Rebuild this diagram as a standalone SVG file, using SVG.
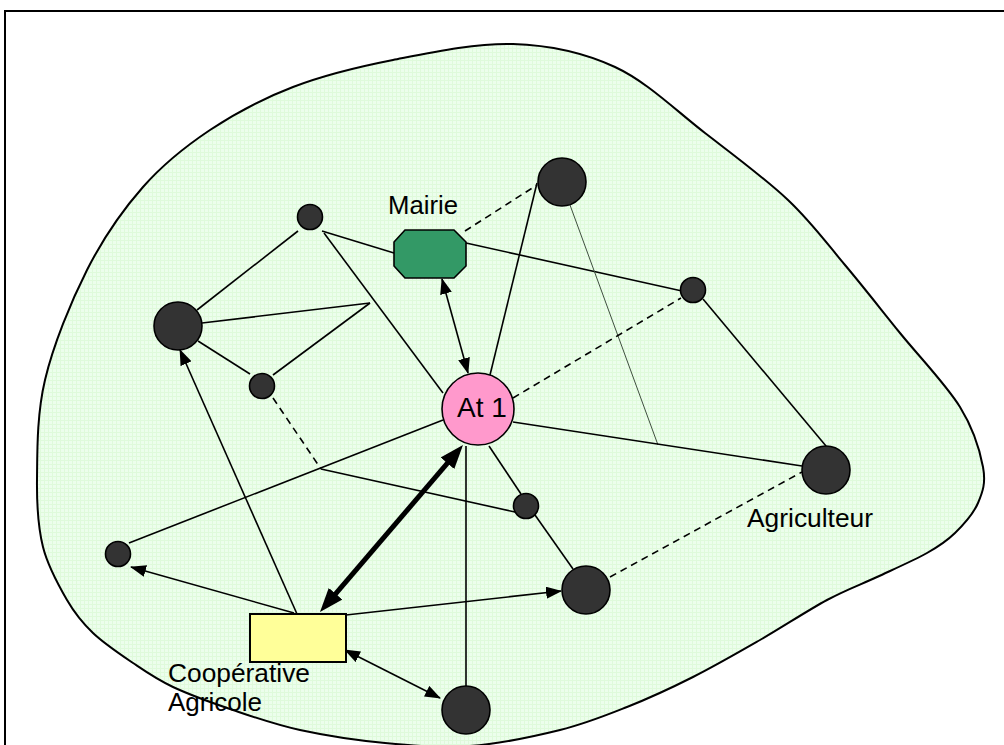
<svg xmlns="http://www.w3.org/2000/svg" width="1004" height="745" viewBox="0 0 1004 745">
<style>
.ln{stroke:#000;stroke-width:1.6;fill:none}
.dash{stroke:#000;stroke-width:1.6;fill:none;stroke-dasharray:7,5}
.thin{stroke:#3f4f3f;stroke-width:1;fill:none}
.thick{stroke:#000;stroke-width:5;fill:none}
.nd{fill:#333333;stroke:#000;stroke-width:1.6}
.lbl{font-family:"Liberation Sans",Arial,sans-serif;font-size:26px;fill:#000}
</style>
<defs>
<pattern id="grid" width="4" height="4" patternUnits="userSpaceOnUse">
<rect width="4" height="4" fill="#ecfeec"/>
<path d="M0,0.5H4M0.5,0V4" stroke="#dffadb" stroke-width="1"/>
</pattern>
<marker id="ah" markerUnits="userSpaceOnUse" viewBox="0 0 16 12" markerWidth="16" markerHeight="12" refX="15" refY="6" orient="auto-start-reverse">
<path d="M0,0 L16,6 L0,12 z" fill="#000"/>
</marker>
<marker id="ahb" markerUnits="userSpaceOnUse" viewBox="0 0 24 18" markerWidth="24" markerHeight="18" refX="6" refY="9" orient="auto-start-reverse">
<path d="M0,0 L24,9 L0,18 z" fill="#000"/>
</marker>
</defs>
<rect x="5" y="11" width="1010" height="750" fill="#fff" stroke="#000" stroke-width="2"/>
<path id="territoire" d="M513,44 C550,45.2 583,52.2 615,67 C647,81.8 676.2,110.8 705,133 C733.8,155.2 764.7,178 788,200 C811.3,222 826.3,242.8 845,265 C863.7,287.2 880.8,309.3 900,333 C919.2,356.7 946.2,384.7 960,407 C973.8,429.3 980,451 983,467 C986,483 982.7,492 978,503 C973.3,514 963.5,524.7 955,533 C946.5,541.3 940,545.7 927,553 C914,560.3 893.7,569.2 877,577 C860.3,584.8 846.5,589.5 827,600 C807.5,610.5 782.3,627.2 760,640 C737.7,652.8 715.2,665.8 693,677 C670.8,688.2 649.2,698.2 627,707 C604.8,715.8 586.2,723.5 560,730 C533.8,736.5 499.2,743.8 470,746 C440.8,748.2 413.3,745.7 385,743 C356.7,740.3 325.3,735.5 300,730 C274.7,724.5 254.2,717.2 233,710 C211.8,702.8 189.7,694.8 173,687 C156.3,679.2 146.3,672 133,663 C119.7,654 104,643.5 93,633 C82,622.5 75.3,614.3 67,600 C58.7,585.7 48,567 43,547 C38,527 36.7,507.8 37,480 C37.3,452.2 36.7,415 45,380 C53.3,345 70.7,302.2 87,270 C103.3,237.8 122.5,210.3 143,187 C163.5,163.7 185,146.7 210,130 C235,113.3 262.5,98.7 293,87 C323.5,75.3 356.3,67.2 393,60 C429.7,52.8 476,42.8 513,44 Z" fill="url(#grid)" stroke="#000" stroke-width="2"/>
<g id="connecteurs">
<line class="ln" x1="298" y1="231" x2="197" y2="310"/>
<line class="ln" x1="322" y1="231" x2="394" y2="253"/>
<line class="ln" x1="324" y1="233" x2="443" y2="393"/>
<line class="ln" x1="202" y1="323" x2="370" y2="303"/>
<line class="ln" x1="273" y1="375" x2="370" y2="303"/>
<line class="ln" x1="198" y1="341" x2="250" y2="374"/>
<line class="dash" x1="273" y1="398" x2="321" y2="469"/>
<line class="ln" x1="321" y1="469" x2="515" y2="512"/>
<line class="ln" x1="129" y1="543" x2="443" y2="420"/>
<line class="ln" x1="297" y1="614" x2="180" y2="350" marker-end="url(#ah)"/>
<line class="ln" x1="294" y1="613" x2="131" y2="567" marker-end="url(#ah)"/>
<line class="thick" x1="331.7" y1="598.3" x2="451.3" y2="458.7" marker-start="url(#ahb)" marker-end="url(#ahb)"/>
<line class="ln" x1="346" y1="615" x2="561" y2="591" marker-end="url(#ah)"/>
<line class="ln" x1="345" y1="650" x2="440" y2="698" marker-start="url(#ah)" marker-end="url(#ah)"/>
<line class="ln" x1="466" y1="446" x2="466" y2="686"/>
<line class="ln" x1="442" y1="279" x2="468" y2="373" marker-start="url(#ah)" marker-end="url(#ah)"/>
<line class="ln" x1="490" y1="375" x2="537" y2="183"/>
<line class="dash" x1="465" y1="231" x2="537" y2="185"/>
<line class="ln" x1="466" y1="243" x2="682" y2="291"/>
<line class="thin" x1="570" y1="205" x2="658" y2="445"/>
<line class="dash" x1="513" y1="398" x2="681" y2="298"/>
<line class="ln" x1="513" y1="422" x2="802" y2="466"/>
<line class="ln" x1="703" y1="299" x2="826" y2="446"/>
<line class="dash" x1="610" y1="577" x2="802" y2="472"/>
<line class="ln" x1="489" y1="446" x2="521" y2="494"/>
<line class="ln" x1="535" y1="515" x2="573" y2="569"/>
</g>
<g id="n-a"><circle class="nd" cx="310" cy="217" r="12.5"/></g>
<g id="n-b"><circle class="nd" cx="178" cy="326" r="24"/></g>
<g id="n-c"><circle class="nd" cx="262" cy="386" r="12.5"/></g>
<g id="n-mairie">
<polygon points="405,230 454,230 466,242 466,266 454,278 405,278 394,266 394,242" fill="#339966" stroke="#000" stroke-width="1.6"/>
<text class="lbl" x="388" y="214" textLength="70" lengthAdjust="spacingAndGlyphs" style="font-size:25px">Mairie</text>
</g>
<g id="n-d"><circle class="nd" cx="562" cy="182" r="24"/></g>
<g id="n-e"><circle class="nd" cx="693" cy="290" r="12.5"/></g>
<g id="n-at1">
<circle cx="478" cy="409" r="36" fill="#ff99cc" stroke="#000" stroke-width="1.6"/>
<text class="lbl" x="457" y="417" style="font-size:28px">At 1</text>
</g>
<g id="n-agriculteur">
<circle class="nd" cx="826" cy="470" r="24"/>
<text class="lbl" x="747" y="527" textLength="126" lengthAdjust="spacingAndGlyphs">Agriculteur</text>
</g>
<g id="n-g"><circle class="nd" cx="526" cy="506" r="12.5"/></g>
<g id="n-h"><circle class="nd" cx="586" cy="590" r="24"/></g>
<g id="n-i"><circle class="nd" cx="466" cy="710" r="24"/></g>
<g id="n-j"><circle class="nd" cx="118" cy="554" r="12.5"/></g>
<g id="n-coop">
<rect x="250" y="614" width="96" height="48" fill="#ffff99" stroke="#000" stroke-width="2"/>
<text class="lbl" x="168" y="682" textLength="142" lengthAdjust="spacingAndGlyphs">Coopérative</text>
<text class="lbl" x="168" y="711" textLength="94" lengthAdjust="spacingAndGlyphs">Agricole</text>
</g>
</svg>
